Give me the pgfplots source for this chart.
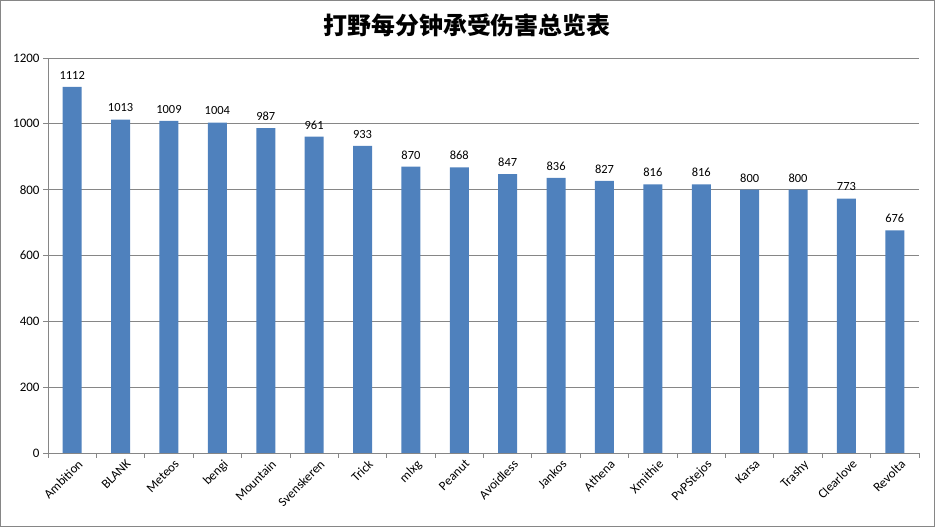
\documentclass[border=0pt]{standalone}
\usepackage{fontspec}
\setmainfont{Carlito}
\newfontfamily\cjk{Noto Sans CJK SC}
\usepackage{pgfplots}
\pgfplotsset{compat=1.18}
\definecolor{barblue}{HTML}{4F81BD}
\definecolor{axgray}{HTML}{868686}
\begin{document}
\begin{tikzpicture}[x=1bp,y=1bp]
\draw[axgray, line width=1bp] (0.5,0.5) rectangle (934.5,526.5);
\node[font=\cjk\bfseries\fontsize{24}{26}\selectfont] at (467,502) {打野每分钟承受伤害总览表};
\begin{axis}[
  at={(48bp,74bp)}, anchor=south west,
  scale only axis, width=871bp, height=395bp,
  xmin=-0.5, xmax=17.5, ymin=0, ymax=1200,
  ytick={0,200,...,1200},
  xtick={0,...,17},
  xticklabels={Ambition,BLANK,Meteos,bengi,Mountain,Svenskeren,Trick,mlxg,Peanut,Avoidless,Jankos,Athena,Xmithie,PvPStejos,Karsa,Trashy,Clearlove,Revolta},
  minor xtick={-0.5,0.5,...,17.5},
  major x tick style={draw=none},
  tick align=outside,
  major tick length=5bp, minor tick length=5bp,
  tick style={axgray, line width=0.8bp},
  axis x line*=bottom, axis y line*=left,
  axis line style={axgray, line width=0.8bp, -},
  ymajorgrids, grid style={axgray, line width=0.8bp},
  x tick label style={rotate=45, anchor=north east, font=\fontsize{13}{14}\selectfont, inner sep=1bp, yshift=-3bp, xshift=4bp},
  y tick label style={font=\fontsize{13}{14}\selectfont},
  /pgf/number format/assume math mode=true,
  /pgf/number format/1000 sep={},
  ybar, bar width=19bp,
  nodes near coords,
  every node near coord/.append style={font=\fontsize{12.5}{14}\selectfont, black, yshift=4bp},
  clip=false,
]
\addplot[fill=barblue, draw=none] coordinates {
(0,1112) (1,1013) (2,1009) (3,1004) (4,987) (5,961) (6,933) (7,870) (8,868)
(9,847) (10,836) (11,827) (12,816) (13,816) (14,800) (15,800) (16,773) (17,676)
};
\end{axis}
\end{tikzpicture}
\end{document}
